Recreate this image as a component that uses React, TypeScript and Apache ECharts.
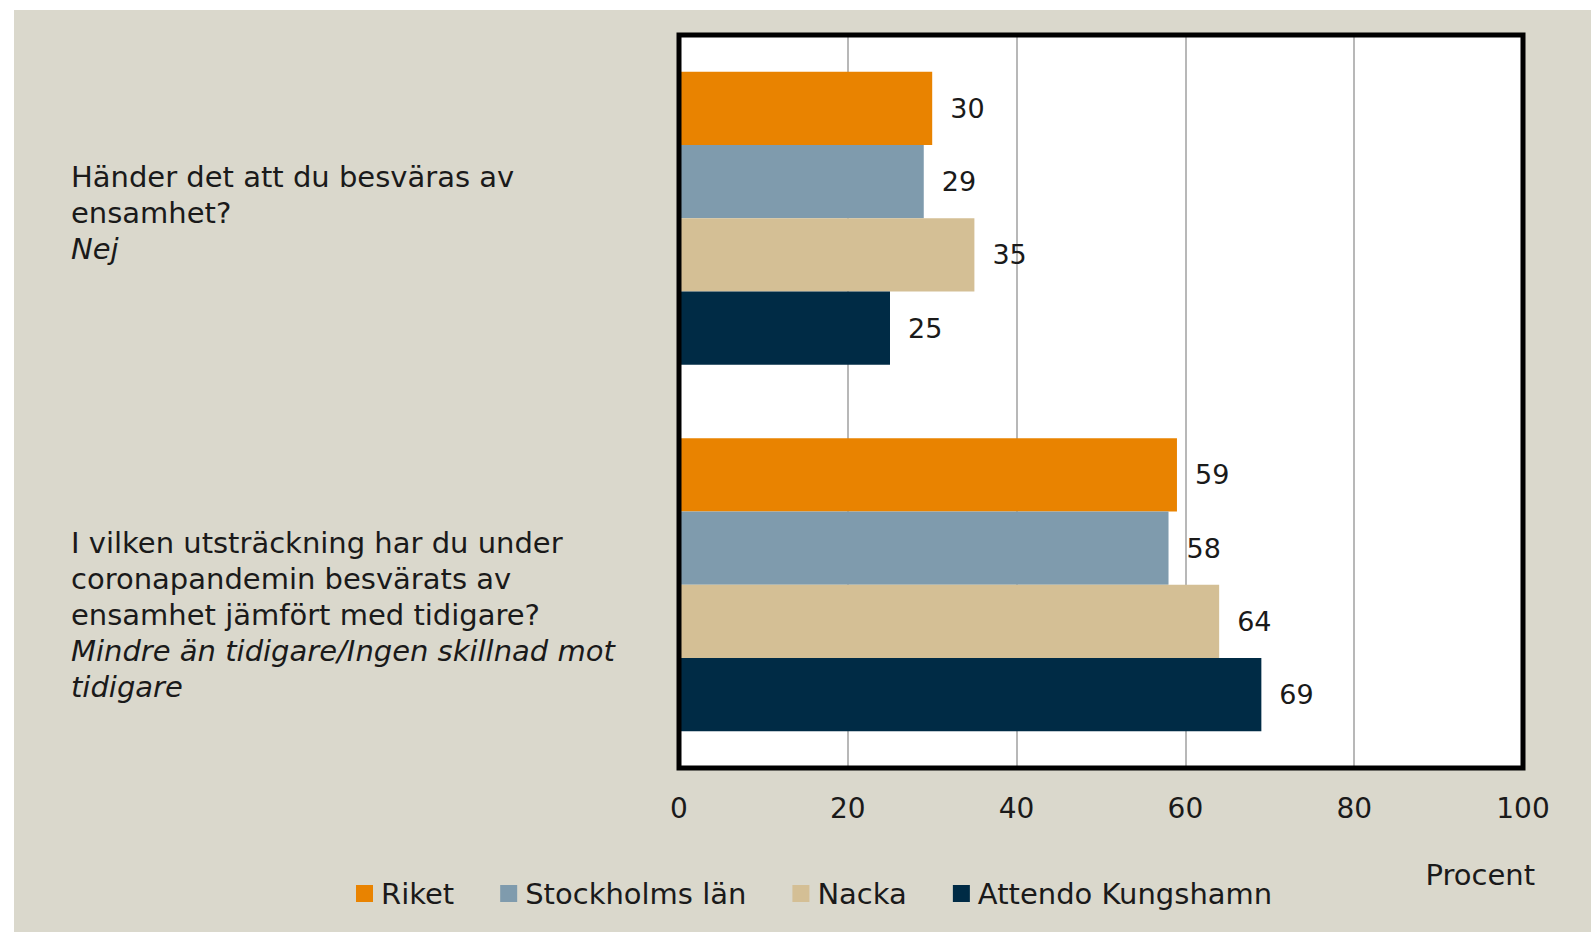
import React, { useEffect, useRef } from "react";
import * as echarts from "echarts";

const questions = [
  "Händer det att du besväras av\nensamhet?",
  "I vilken utsträckning har du under\ncoronapandemin besvärats av\nensamhet jämfört med tidigare?",
];
const answers = ["Nej", "Mindre än tidigare/Ingen skillnad mot\ntidigare"];
const seriesNames = ["Riket", "Stockholms län", "Nacka", "Attendo Kungshamn"];
const riket = [30, 59];
const stockholm = [29, 58];
const nacka = [35, 64];
const attendo = [25, 69];
const axisName = "Procent";

export default function App() {
  const ref = useRef<HTMLDivElement>(null);
  useEffect(() => {
    const chart = echarts.init(ref.current!, null, { renderer: "svg" });
    const font = "'DejaVu Sans', sans-serif";
    const colors = ["#E98300", "#7F9BAD", "#D4BF95", "#002B45"];
    const values = [riket, stockholm, nacka, attendo];
    const G = { left: 665, top: 25, width: 844, height: 733 };
    const textColor = "#1a1a1a";
    chart.setOption({
      animation: false,
      backgroundColor: "#DAD8CC",
      textStyle: { fontFamily: font },
      grid: {
        left: G.left,
        top: G.top,
        width: G.width,
        height: G.height,
        show: true,
        backgroundColor: "#ffffff",
        borderWidth: 0,
        containLabel: false,
        outerBoundsMode: "none",
      },
      legend: {
        data: seriesNames,
        left: 342,
        top: 869,
        padding: 0,
        icon: "rect",
        itemWidth: 17,
        itemHeight: 17,
        itemGap: 46,
        textStyle: { fontSize: 29, color: textColor, fontFamily: font, lineHeight: 29, padding: [0, 0, 0, 3] },
      },
      xAxis: {
        type: "value",
        min: 0,
        max: 100,
        interval: 20,
        axisLine: { show: false },
        axisTick: { show: false },
        splitLine: { show: true, lineStyle: { color: "#A0A0A0", width: 1.5 } },
        axisLabel: { fontSize: 28, color: textColor, margin: 26, fontFamily: font, lineHeight: 28 },
      },
      yAxis: {
        type: "category",
        inverse: true,
        data: questions,
        axisLine: { show: false },
        axisTick: { show: false },
        splitLine: { show: false },
        axisLabel: {
          align: "left",
          margin: 608,
          formatter: (_v: string, idx: number) => {
            const q = questions[idx].split("\n").map((l) => `{q|${l}}`);
            const a = answers[idx].split("\n").map((l) => `{i|${l}}`);
            const lines = [...q, ...a];
            if (idx === 0) lines.push("{s0| }");
            if (idx === 1) lines.unshift("{s1| }");
            return lines.join("\n");
          },
          rich: {
            q: { fontSize: 29, lineHeight: 36, color: textColor, fontFamily: font },
            i: { fontSize: 29, lineHeight: 36, color: textColor, fontFamily: font, fontStyle: "italic" },
            s0: { fontSize: 8, lineHeight: 10 },
            s1: { fontSize: 10, lineHeight: 60 },
          },
        },
      },
      series: seriesNames.map((n, i) => ({
        type: "bar",
        name: n,
        data: values[i],
        barGap: "0%",
        barCategoryGap: "20%",
        itemStyle: { color: colors[i] },
        label: {
          show: true,
          position: "right",
          distance: 18,
          fontSize: 27,
          color: textColor,
          fontFamily: font,
        },
      })),
      graphic: [
        {
          type: "rect",
          z: 100,
          silent: true,
          shape: { x: G.left, y: G.top, width: G.width, height: G.height },
          style: { fill: "rgba(0,0,0,0)", stroke: "#000000", lineWidth: 5 },
        },
        {
          type: "text",
          z: 100,
          silent: true,
          x: 1521,
          y: 865,
          style: {
            text: axisName,
            fontSize: 29,
            fontFamily: font,
            fill: textColor,
            align: "right",
            verticalAlign: "middle",
          },
        },
      ],
    });
    return () => chart.dispose();
  }, []);
  return (
    <div style={{ position: "absolute", left: 0, top: 0, width: 1591, height: 932, background: "#ffffff" }}>
      <div ref={ref} style={{ position: "absolute", left: 14, top: 10, width: 1577, height: 922 }} />
    </div>
  );
}
